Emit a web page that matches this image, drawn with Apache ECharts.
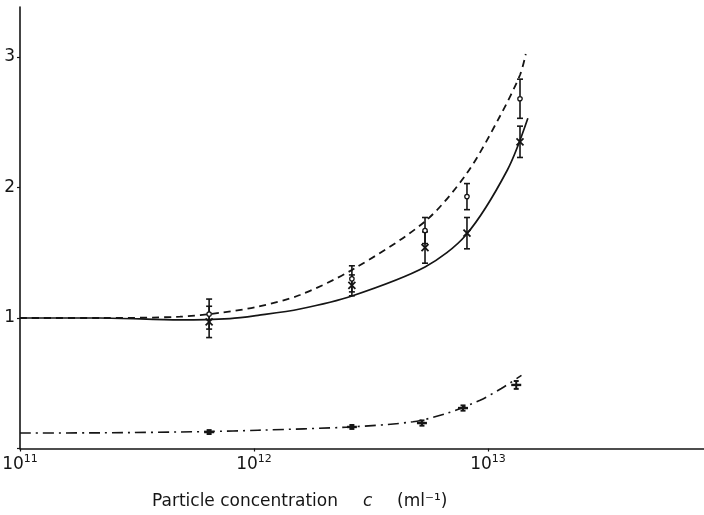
<!DOCTYPE html>
<html>
<head>
<meta charset="utf-8">
<script src="https://cdn.jsdelivr.net/npm/echarts@6/dist/echarts.min.js"></script>
<style>html,body{margin:0;padding:0;background:#fff;}#c{width:704px;height:515px;}</style>
</head>
<body>
<div id="c"></div>
<script>
// ---- data (particle concentration in ml^-1) ----
const xTicks = [1e11, 1e12, 1e13];
const yTicks = [1, 2, 3];

const concUpper = [6.43e11, 2.62e12, 5.38e12, 8.13e12, 1.37e13];
const openVals  = [1.03, 1.30, 1.67, 1.93, 2.68];
const openErr   = [0.115, 0.10, 0.10, 0.10, 0.15];
const crossVals = [0.97, 1.25, 1.54, 1.65, 2.35];
const crossErr  = [0.12, 0.08, 0.12, 0.12, 0.12];

const concLower = [6.43e11, 2.62e12, 5.22e12, 7.82e12, 1.32e13];
const plusVals  = [0.126, 0.165, 0.195, 0.31, 0.487];
const plusErr   = [0.015, 0.015, 0.02, 0.02, 0.03];

const solidC = [1e11, 2.2e11, 4.83e11, 7.9e11, 1.04e12, 1.57e12, 2.62e12, 5.38e12, 8.05e12, 1.21e13, 1.48e13];
const solidY = [1.0, 1.0, 0.985, 0.995, 1.02, 1.069, 1.169, 1.391, 1.636, 2.134, 2.53];

const dashC = [1e11, 2.2e11, 4.83e11, 7.16e11, 1.04e12, 1.57e12, 2.62e12, 5.38e12, 8.13e12, 1.12e13, 1.37e13, 1.45e13];
const dashY = [1.0, 1.0, 1.01, 1.04, 1.087, 1.176, 1.368, 1.74, 2.11, 2.54, 2.862, 3.023];

const dotC = [1e11, 2.2e11, 6.36e11, 1.04e12, 2.57e12, 4.78e12, 6.68e12, 9.25e12, 1.14e13, 1.39e13];
const dotY = [0.119, 0.12, 0.13, 0.14, 0.165, 0.205, 0.27, 0.37, 0.46, 0.56];

const INK = '#151515';
const FONT = 'DejaVu Sans';

function zip(a, b, c) { return a.map((v, i) => c ? [v, b[i], c[i]] : [v, b[i]]); }

function errRender(kind) {
  return function (params, api) {
    const x = api.value(0), y = api.value(1), e = api.value(2);
    const p = api.coord([x, y]);
    const top = api.coord([x, y + e]);
    const bot = api.coord([x, y - e]);
    const cw = kind === 'plus' ? 2.5 : 3;
    const st = { stroke: INK, lineWidth: kind === 'plus' ? 2 : 1.6, fill: null };
    const ch = [
      { type: 'line', shape: { x1: p[0], y1: top[1], x2: p[0], y2: bot[1] }, style: st },
      { type: 'line', shape: { x1: p[0] - cw, y1: top[1], x2: p[0] + cw, y2: top[1] }, style: st },
      { type: 'line', shape: { x1: p[0] - cw, y1: bot[1], x2: p[0] + cw, y2: bot[1] }, style: st }
    ];
    if (kind === 'open') {
      ch.push({ type: 'circle', shape: { cx: p[0], cy: p[1], r: 2.2 }, style: { stroke: INK, lineWidth: 1.3, fill: '#fff' } });
    } else if (kind === 'cross') {
      const s = 3.5;
      ch.push({ type: 'line', shape: { x1: p[0] - s, y1: p[1] - s, x2: p[0] + s, y2: p[1] + s }, style: { stroke: INK, lineWidth: 1.8 } });
      ch.push({ type: 'line', shape: { x1: p[0] - s, y1: p[1] + s, x2: p[0] + s, y2: p[1] - s }, style: { stroke: INK, lineWidth: 1.8 } });
    } else {
      const s = 5;
      ch.push({ type: 'line', shape: { x1: p[0] - s, y1: p[1], x2: p[0] + s, y2: p[1] }, style: { stroke: INK, lineWidth: 2.4 } });
    }
    return { type: 'group', children: ch };
  };
}

const chart = echarts.init(document.getElementById('c'), null, { renderer: 'canvas' });
chart.setOption({
  backgroundColor: '#fff',
  animation: false,
  grid: { left: 20, right: 0, top: 7, bottom: 66.5, outerBoundsMode: 'none', containLabel: false },
  xAxis: {
    type: 'log', logBase: 10, min: 1e11, max: Math.pow(10, 13.923),
    axisLine: { show: true, onZero: false, lineStyle: { color: INK, width: 1.6 } },
    axisTick: { show: true, length: 3, lineStyle: { color: INK, width: 1.2 } },
    splitLine: { show: false },
    axisLabel: {
      showMaxLabel: false, margin: 5, color: INK,
      formatter: function (v) {
        const e = Math.round(Math.log10(v));
        if (xTicks.indexOf(Math.pow(10, e)) < 0 || Math.abs(Math.log10(v) - e) > 1e-6) return '';
        return '{b|10}{s|' + e + '}';
      },
      rich: {
        b: { fontFamily: FONT, fontSize: 17, color: INK, verticalAlign: 'bottom' },
        s: { fontFamily: FONT, fontSize: 11, color: INK, verticalAlign: 'bottom', padding: [0, 0, 9, 0] }
      }
    }
  },
  yAxis: {
    type: 'value', min: 0, max: 3.383, interval: 1,
    axisLine: { show: true, lineStyle: { color: INK, width: 1.6 } },
    axisTick: { show: true, length: 3, lineStyle: { color: INK, width: 1.2 } },
    splitLine: { show: false },
    axisLabel: {
      showMaxLabel: false, margin: 5, color: INK, fontFamily: FONT, fontSize: 17,
      formatter: function (v) { return yTicks.indexOf(v) >= 0 ? String(v) : ''; }
    }
  },
  graphic: [
    { type: 'text', left: 152, top: 493, style: { text: 'Particle concentration', fontFamily: FONT, fontSize: 17, fill: INK } },
    { type: 'text', left: 363, top: 493, style: { text: 'c', fontFamily: FONT, fontStyle: 'italic', fontSize: 17, fill: INK } },
    { type: 'text', left: 397, top: 493, style: { text: '(ml⁻¹)', fontFamily: FONT, fontSize: 17, fill: INK } }
  ],
  series: [
    { type: 'line', data: zip(solidC, solidY), smooth: 0.3, showSymbol: false, symbol: 'none',
      lineStyle: { color: INK, width: 1.7, type: 'solid' } },
    { type: 'line', data: zip(dashC, dashY), smooth: 0.3, showSymbol: false, symbol: 'none',
      lineStyle: { color: INK, width: 1.8, type: [7, 5] } },
    { type: 'line', data: zip(dotC, dotY), smooth: 0.3, showSymbol: false, symbol: 'none',
      lineStyle: { color: INK, width: 1.6, type: [11, 5, 2, 5] } },
    { type: 'custom', data: zip(concUpper, crossVals, crossErr), renderItem: errRender('cross'), z: 5 },
    { type: 'custom', data: zip(concUpper, openVals, openErr), renderItem: errRender('open'), z: 6 },
    { type: 'custom', data: zip(concLower, plusVals, plusErr), renderItem: errRender('plus'), z: 5 }
  ]
});
</script>
</body>
</html>
